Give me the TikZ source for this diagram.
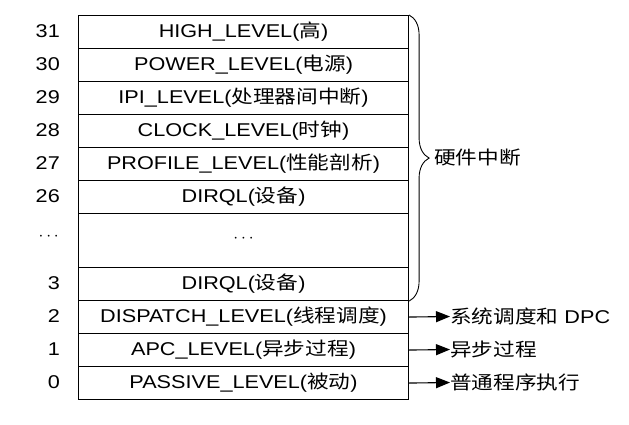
\documentclass[tikz,border=0pt]{standalone}
\usepackage{fontspec}
\setmainfont{Liberation Sans}[FakeStretch=1.17]
\newfontfamily\cjk{Noto Sans CJK SC}[FakeStretch=1.17]
\usetikzlibrary{decorations.pathreplacing,arrows.meta}

\tikzset{
  lvl/.style = {draw, line width=1.1pt, minimum width=330pt, minimum height=33pt,
                inner sep=0pt, anchor=north west, font=\fontsize{18.5}{18.5}\selectfont},
  num/.style = {anchor=east, inner sep=0pt, font=\fontsize{18.5}{18.5}\selectfont},
  note/.style = {anchor=west, inner sep=0pt, font=\fontsize{18.5}{18.5}\selectfont},
  pointer/.style = {-{Triangle[length=14pt,width=11pt]}, line width=1.1pt}
}

\begin{document}
\begin{tikzpicture}[x=1pt, y=-1pt]
		\useasboundingbox (0,0) rectangle (629,425);
		
		% hardware levels
		\node (high) at (78,15) [lvl] {HIGH\_LEVEL({\cjk 高})};
		\node (power) at (78,48) [lvl] {POWER\_LEVEL({\cjk 电源})};
		\node (ipi) at (78,81) [lvl] {IPI\_LEVEL({\cjk 处理器间中断})};
		\node (clock) at (78,114) [lvl] {CLOCK\_LEVEL({\cjk 时钟})};
		\node (profile) at (78,147) [lvl] {PROFILE\_LEVEL({\cjk 性能剖析})};
		\node (dirqa) at (78,180) [lvl] {DIRQL({\cjk 设备})};
		\node (gap) at (78,213) [lvl, minimum height=54pt] {\raisebox{3pt}{$\cdots$}};
		\node (dirqb) at (78,267) [lvl] {DIRQL({\cjk 设备})};
		
		% software levels
		\node (dispatch) at (78,300) [lvl] {DISPATCH\_LEVEL({\cjk 线程调度})};
		\node (apc) at (78,333) [lvl] {APC\_LEVEL({\cjk 异步过程})};
		\node (passive) at (78,366) [lvl] {PASSIVE\_LEVEL({\cjk 被动})};
		
		\node (n31) at (60,31.5) [num] {31};
		\node (n30) at (60,64.5) [num] {30};
		\node (n29) at (60,97.5) [num] {29};
		\node (n28) at (60,130.5) [num] {28};
		\node (n27) at (60,163.5) [num] {27};
		\node (n26) at (60,196.5) [num] {26};
		\node (ndots) at (59,237) [num] {$\cdots$};
		\node (n3) at (60,283.5) [num] {3};
		\node (n2) at (60,316.5) [num] {2};
		\node (n1) at (60,349.5) [num] {1};
		\node (n0) at (60,382.5) [num] {0};
		
		\draw [line width=0.9pt, decorate, decoration={brace, amplitude=20pt}]
			(high.north east) -- (dirqb.south east);
		\node (hw) at (434,157) [note] {\cjk 硬件中断};
		
		\node (sched) at (450,316.5) [note] {{\cjk 系统调度和} DPC};
		\node (async) at (450,349.5) [note] {\cjk 异步过程};
		\node (normal) at (450,382.5) [note] {\cjk 普通程序执行};
		
		\draw [pointer] (dispatch.east) -- (sched.west);
		\draw [pointer] (apc.east) -- (async.west);
		\draw [pointer] (passive.east) -- (normal.west);
\end{tikzpicture}
\end{document}
